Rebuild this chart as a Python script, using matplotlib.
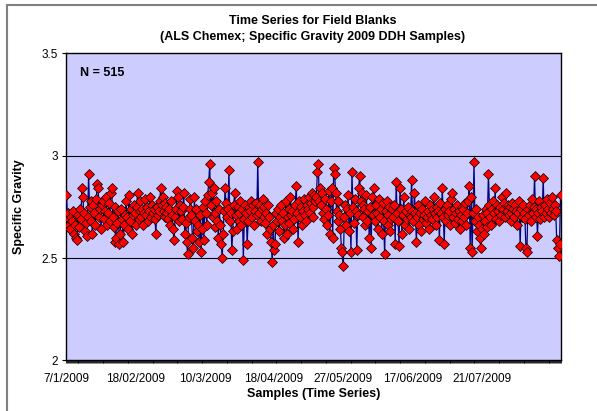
import numpy as np
import matplotlib
matplotlib.use("Agg")
import matplotlib.pyplot as plt
from matplotlib.patches import Rectangle

# Specific gravity of field blanks (515 samples)
sg_values = [
    2.81, 2.70, 2.72, 2.66, 2.64, 2.70, 2.68, 2.73, 2.62, 2.66, 2.60, 2.59, 2.71, 2.65, 2.74, 2.69, 2.84, 2.80, 2.72, 2.63,
    2.67, 2.61, 2.70, 2.91, 2.75, 2.78, 2.68, 2.62, 2.76, 2.72, 2.66, 2.79, 2.86, 2.84, 2.70, 2.74, 2.64, 2.76, 2.78, 2.69,
    2.73, 2.80, 2.66, 2.72, 2.77, 2.68, 2.82, 2.84, 2.70, 2.65, 2.75, 2.58, 2.60, 2.67, 2.73, 2.57, 2.62, 2.74, 2.69, 2.58,
    2.66, 2.71, 2.78, 2.70, 2.64, 2.81, 2.68, 2.74, 2.62, 2.71, 2.76, 2.72, 2.66, 2.75, 2.82, 2.69, 2.73, 2.78, 2.70, 2.74,
    2.66, 2.72, 2.79, 2.71, 2.75, 2.68, 2.73, 2.80, 2.70, 2.76, 2.72, 2.74, 2.69, 2.62, 2.75, 2.71, 2.73, 2.78, 2.84, 2.76,
    2.80, 2.73, 2.77, 2.70, 2.75, 2.72, 2.69, 2.74, 2.66, 2.78, 2.71, 2.64, 2.59, 2.70, 2.74, 2.83, 2.80, 2.68, 2.76, 2.73,
    2.69, 2.75, 2.82, 2.62, 2.67, 2.58, 2.52, 2.70, 2.74, 2.79, 2.71, 2.60, 2.55, 2.80, 2.68, 2.74, 2.63, 2.66, 2.58, 2.71,
    2.53, 2.64, 2.75, 2.59, 2.78, 2.72, 2.66, 2.81, 2.87, 2.96, 2.76, 2.82, 2.70, 2.84, 2.72, 2.65, 2.78, 2.68, 2.60, 2.74,
    2.66, 2.57, 2.50, 2.62, 2.73, 2.84, 2.77, 2.70, 2.74, 2.93, 2.68, 2.72, 2.54, 2.63, 2.76, 2.82, 2.71, 2.64, 2.75, 2.68,
    2.72, 2.78, 2.66, 2.74, 2.49, 2.69, 2.76, 2.72, 2.57, 2.68, 2.75, 2.73, 2.78, 2.70, 2.76, 2.66, 2.73, 2.77, 2.71, 2.97,
    2.72, 2.76, 2.68, 2.74, 2.79, 2.70, 2.75, 2.67, 2.72, 2.62, 2.76, 2.70, 2.64, 2.58, 2.48, 2.66, 2.54, 2.57, 2.72, 2.68,
    2.74, 2.63, 2.70, 2.76, 2.68, 2.72, 2.60, 2.66, 2.78, 2.62, 2.70, 2.74, 2.67, 2.80, 2.71, 2.73, 2.64, 2.69, 2.76, 2.85,
    2.72, 2.58, 2.78, 2.70, 2.75, 2.66, 2.73, 2.79, 2.71, 2.68, 2.76, 2.74, 2.80, 2.72, 2.77, 2.82, 2.70, 2.75, 2.81, 2.78,
    2.80, 2.92, 2.96, 2.78, 2.84, 2.76, 2.82, 2.72, 2.69, 2.79, 2.74, 2.66, 2.71, 2.83, 2.62, 2.78, 2.84, 2.60, 2.94, 2.91,
    2.82, 2.73, 2.68, 2.78, 2.71, 2.64, 2.55, 2.53, 2.46, 2.70, 2.76, 2.66, 2.74, 2.81, 2.63, 2.72, 2.53, 2.92, 2.75, 2.67,
    2.79, 2.73, 2.54, 2.71, 2.84, 2.90, 2.78, 2.82, 2.70, 2.76, 2.74, 2.66, 2.81, 2.68, 2.73, 2.60, 2.75, 2.55, 2.80, 2.71,
    2.84, 2.68, 2.76, 2.72, 2.64, 2.79, 2.70, 2.74, 2.62, 2.77, 2.68, 2.52, 2.73, 2.78, 2.66, 2.71, 2.75, 2.63, 2.69, 2.74,
    2.70, 2.76, 2.57, 2.87, 2.72, 2.68, 2.56, 2.84, 2.74, 2.62, 2.71, 2.80, 2.66, 2.73, 2.69, 2.75, 2.64, 2.71, 2.70, 2.88,
    2.73, 2.68, 2.82, 2.72, 2.58, 2.70, 2.76, 2.66, 2.72, 2.63, 2.74, 2.69, 2.71, 2.78, 2.67, 2.70, 2.73, 2.64, 2.76, 2.71,
    2.69, 2.74, 2.80, 2.72, 2.66, 2.75, 2.70, 2.73, 2.59, 2.77, 2.72, 2.84, 2.70, 2.57, 2.74, 2.68, 2.76, 2.71, 2.73, 2.66,
    2.79, 2.82, 2.70, 2.74, 2.67, 2.72, 2.76, 2.69, 2.73, 2.64, 2.71, 2.75, 2.68, 2.74, 2.70, 2.77, 2.66, 2.72, 2.78, 2.85,
    2.55, 2.80, 2.53, 2.72, 2.97, 2.68, 2.74, 2.63, 2.70, 2.66, 2.60, 2.55, 2.64, 2.71, 2.62, 2.68, 2.74, 2.65, 2.72, 2.91,
    2.76, 2.70, 2.66, 2.74, 2.78, 2.72, 2.84, 2.69, 2.76, 2.73, 2.68, 2.75, 2.71, 2.80, 2.74, 2.77, 2.70, 2.82, 2.73, 2.76,
    2.71, 2.75, 2.68, 2.72, 2.77, 2.74, 2.70, 2.76, 2.73, 2.66, 2.72, 2.78, 2.56, 2.74, 2.70, 2.76, 2.72, 2.69, 2.55, 2.53,
    2.74, 2.71, 2.76, 2.68, 2.79, 2.72, 2.75, 2.90, 2.70, 2.74, 2.61, 2.72, 2.78, 2.69, 2.75, 2.73, 2.89, 2.70, 2.76, 2.72,
    2.79, 2.74, 2.70, 2.77, 2.72, 2.80, 2.74, 2.71, 2.76, 2.73, 2.59, 2.55, 2.51, 2.57, 2.81,
]

# category labels shown on the x axis (Excel shows every 72nd sample date)
date_labels = ['7/1/2009', '18/02/2009', '10/3/2009', '18/04/2009',
               '27/05/2009', '17/06/2009', '21/07/2009']
label_step = 72

y_ticks = [2, 2.5, 3, 3.5]
y_tick_labels = ['2', '2.5', '3', '3.5']

plt.rcParams['font.family'] = ['Liberation Sans', 'DejaVu Sans']

fig = plt.figure(figsize=(5.97, 4.11), dpi=100)
ax = fig.add_axes([66 / 597, 50.6 / 411, 495 / 597, 307 / 411])

x = np.arange(len(sg_values))
ax.plot(x, sg_values, color='#000080', linewidth=0.9, marker='D', markersize=4.7,
        markerfacecolor='#FF0000', markeredgecolor='#000000', markeredgewidth=0.5, zorder=3)

ax.set_facecolor('#CCCCFF')
ax.set_xlim(-0.5, len(sg_values) - 0.5)
ax.set_ylim(2, 3.5)

# gridlines
for yv in [2.5, 3.0]:
    ax.axhline(yv, color='#000000', linewidth=0.8, zorder=1)

for sp in ax.spines.values():
    sp.set_color('#000000')
    sp.set_linewidth(1.0)

ax.set_yticks(y_ticks)
ax.set_yticklabels(y_tick_labels, fontsize=8.5)
ax.tick_params(axis='y', length=3, width=0.8, direction='out', pad=3)

# one tick mark per category, labels every label_step categories
ax.set_xticks(np.arange(len(sg_values) + 1) - 0.5, minor=True)
ax.set_xticks(np.arange(len(date_labels)) * label_step)
ax.set_xticklabels(date_labels, fontsize=8.5)
ax.tick_params(axis='x', which='major', length=0, pad=9)
ax.tick_params(axis='x', which='minor', length=2.5, width=0.6, direction='out')

ax.set_xlabel('Samples (Time Series)', fontsize=9, fontweight='bold', labelpad=2)
ax.set_ylabel('Specific Gravity', fontsize=9, fontweight='bold', labelpad=12)

ax.text(0.028, 0.936, 'N = 515', transform=ax.transAxes, fontsize=9, fontweight='bold',
        ha='left', va='center')

fig.text(313 / 597, 1 - 29 / 411, 'Time Series for Field Blanks\n(ALS Chemex; Specific Gravity 2009 DDH Samples)',
         ha='center', va='center', fontsize=9, fontweight='bold', linespacing=1.35)

# chart area border (only left and top visible in the crop)
fig.patches.append(Rectangle((7 / 597, -0.2), 1.5, 1.2 - 5 / 411, transform=fig.transFigure,
                             fill=False, edgecolor='#808080', linewidth=1.5))

fig.savefig('out.png', dpi=100)
